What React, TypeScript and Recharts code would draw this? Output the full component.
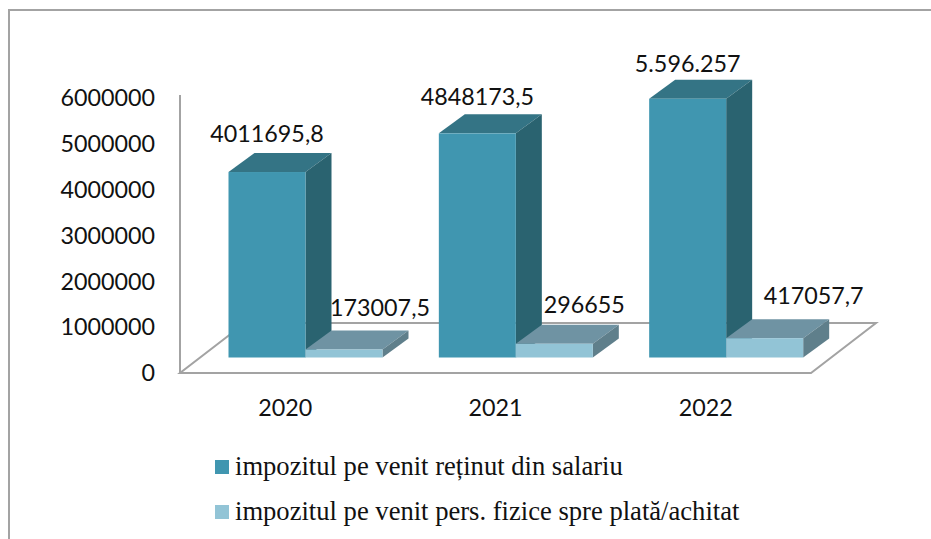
import React from "react";
import { ComposedChart, Bar, Line, XAxis, YAxis, Legend, LabelList, usePlotArea } from "recharts";

const years = ["2020", "2021", "2022"];
const salaryTax = [4011695.8, 4848173.5, 5596257];
const personalTax = [173007.5, 296655, 417057.7];
const salaryLabels = ["4011695,8", "4848173,5", "5.596.257"];
const personalLabels = ["173007,5", "296655", "417057,7"];
const seriesNames = [
  "impozitul pe venit reținut din salariu",
  "impozitul pe venit pers. fizice spre plată/achitat",
];
const yTicks = [0, 1000000, 2000000, 3000000, 4000000, 5000000, 6000000];

const rows = years.map((year, i) => ({
  year,
  salary: salaryTax[i],
  personal: personalTax[i],
  salaryLabel: salaryLabels[i],
  personalLabel: personalLabels[i],
}));

const SHIFT_X = 20.5;
const DEPTH_X = 26;
const DEPTH_Y = 19;
const AXIS_FONT = "Lato, sans-serif";
const LINE = "#a3a3a3";

const Bar3D = (props: any) => {
  const { x, y, width, height, front, top, side } = props;
  const l = x + SHIFT_X;
  const r = l + width;
  const b = y + height;
  return (
    <g>
      <polygon points={`${l},${y} ${l + DEPTH_X},${y - DEPTH_Y} ${r + DEPTH_X},${y - DEPTH_Y} ${r},${y}`} fill={top} />
      <polygon points={`${r},${y} ${r + DEPTH_X},${y - DEPTH_Y} ${r + DEPTH_X},${b - DEPTH_Y} ${r},${b}`} fill={side} />
      <rect x={l} y={y} width={width} height={height} fill={front} />
    </g>
  );
};

const Floor = () => {
  const p = usePlotArea();
  if (!p) return null;
  const left = p.x;
  const right = p.x + p.width;
  const floorY = p.y + p.height + 2;
  const d = `M${left},${floorY} L${right},${floorY} L${right + 65},${floorY - 50} L${left + 65},${floorY - 50} Z`;
  return (
    <g>
      <path d={d} fill="none" stroke={LINE} strokeWidth={2} />
      <line x1={left} y1={p.y - 1} x2={left} y2={floorY} stroke={LINE} strokeWidth={2} />
    </g>
  );
};

const dataLabel = (nudgeX: number[], nudgeY: number[]) => (props: any) => {
  const { x, y, width, value, index } = props;
  return (
    <text
      x={x + SHIFT_X + width / 2 + nudgeX[index]}
      y={y + nudgeY[index]}
      textAnchor="middle"
      dominantBaseline="central"
      fontFamily={AXIS_FONT}
      fontSize={23.3}
      fill="#111"
    >
      {value}
    </text>
  );
};

const LegendBox = ({ payload }: any) => (
  <div>
    {(payload || [])
      .filter((item: any) => item.type !== "none" && seriesNames.includes(item.value))
      .map((item: any) => (
        <div
          key={item.value}
          style={{
            display: "flex",
            alignItems: "center",
            height: 45,
            fontFamily: "'Liberation Serif', serif",
            fontSize: 26.6,
            color: "#111",
            whiteSpace: "nowrap",
          }}
        >
          <span style={{ display: "inline-block", width: 14, height: 14, background: item.color, marginRight: 6 }} />
          {item.value}
        </div>
      ))}
  </div>
);

export default function App() {
  return (
    <div style={{ position: "absolute", left: 0, top: 0, width: 931, height: 539, background: "#fff", overflow: "hidden" }}>
      <div style={{ position: "absolute", left: 8, top: 9, width: 923, height: 540, borderLeft: "2px solid #a3a3a3", borderTop: "2px solid #a3a3a3", boxSizing: "border-box" }} />
      <div style={{ position: "absolute", left: 0, top: 0 }}>
        <ComposedChart
          width={931}
          height={539}
          data={rows}
          barSize={77}
          barGap={0}
          barCategoryGap={28}
          margin={{ top: 96, right: 120, bottom: 128, left: 60 }}
        >
          <XAxis
            dataKey="year"
            axisLine={false}
            tickLine={false}
            height={40}
            tickMargin={22}
            tick={{ fontFamily: AXIS_FONT, fontSize: 23.3, fill: "#111" }}
          />
          <YAxis
            yAxisId="labels"
            width={120}
            domain={[0, 6000000]}
            ticks={yTicks}
            interval={0}
            axisLine={false}
            tickLine={false}
            tickSize={0}
            tickMargin={25}
            tick={{ fontFamily: AXIS_FONT, fontSize: 23.3, fill: "#111", dy: 2 }}
          />
          <YAxis yAxisId="bars" hide width={0} domain={[-292000, 5656000]} />
          <Floor />
          <Legend
            layout="vertical"
            align="center"
            verticalAlign="middle"
            itemSorter={null}
            content={<LegendBox />}
            wrapperStyle={{ position: "absolute", left: 215, top: 444, width: 600 }}
          />
          <Line
            yAxisId="labels"
            dataKey="salary"
            stroke="none"
            dot={false}
            activeDot={false}
            legendType="none"
            isAnimationActive={false}
          />
          <Bar
            yAxisId="bars"
            dataKey="salary"
            name={seriesNames[0]}
            fill="#4096b0"
            isAnimationActive={false}
            shape={(p: any) => <Bar3D {...p} front="#4096b0" top="#347485" side="#2a6370" />}
          >
            <LabelList dataKey="salaryLabel" content={dataLabel([0, 0, 0], [-39, -37, -36])} />
          </Bar>
          <Bar
            yAxisId="bars"
            dataKey="personal"
            name={seriesNames[1]}
            fill="#92c4d6"
            isAnimationActive={false}
            shape={(p: any) => <Bar3D {...p} front="#92c4d6" top="#6f93a3" side="#5f7f8b" />}
          >
            <LabelList dataKey="personalLabel" content={dataLabel([36, 30, 49], [-43, -40, -43])} />
          </Bar>
        </ComposedChart>
      </div>
    </div>
  );
}
